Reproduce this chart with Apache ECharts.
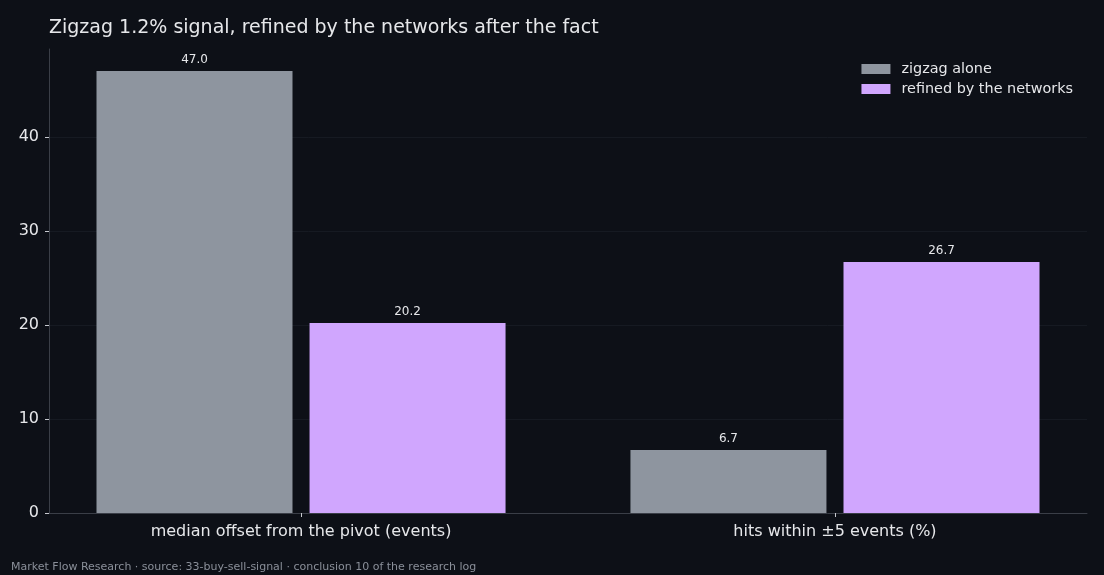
<!DOCTYPE html>
<html>
<head>
<meta charset="utf-8">
<script src="https://cdn.jsdelivr.net/npm/echarts@6/dist/echarts.min.js"></script>
<style>
  html, body { margin: 0; padding: 0; background: #0d1017; }
  #chart { width: 1104px; height: 575px; }
</style>
</head>
<body>
<div id="chart"></div>
<script>
// categories and values
const categories = ['median offset from the pivot (events)', 'hits within ±5 events (%)']
const zigzagAlone = [47.0, 6.7]
const refined = [20.2, 26.7]
const yTicks = [0, 10, 20, 30, 40]

const font = 'DejaVu Sans'
const chart = echarts.init(document.getElementById('chart'))

// x is a value axis so the category centres land where the original puts them
const toPoints = arr => arr.map((v, i) => [i, v])

chart.setOption({
  backgroundColor: '#0d1017',
  animation: false,
  textStyle: { fontFamily: font },
  title: {
    text: 'Zigzag 1.2% signal, refined by the networks after the fact',
    left: 44,
    top: 14,
    textStyle: { color: '#e6e7ea', fontSize: 19, fontWeight: 'normal', fontFamily: font }
  },
  graphic: [{
    type: 'text',
    left: 11,
    top: 562,
    style: {
      text: 'Market Flow Research · source: 33-buy-sell-signal · conclusion 10 of the research log',
      fill: '#8a8f99',
      font: '11px "DejaVu Sans"'
    }
  }],
  legend: {
    orient: 'vertical',
    right: 26,
    top: 57,
    icon: 'rect',
    itemWidth: 29,
    itemHeight: 10,
    itemGap: 6,
    textStyle: { color: '#e6e7ea', fontSize: 14.4, fontFamily: font, padding: [0, 0, 0, 6] },
    data: ['zigzag alone', 'refined by the networks']
  },
  grid: { left: 49, right: 17, top: 49, bottom: 62 },
  xAxis: {
    type: 'value',
    min: -0.472,
    max: 1.472,
    splitLine: { show: false },
    axisLine: { show: true, onZero: false, lineStyle: { color: '#3a3e47' } },
    axisTick: { show: true, customValues: [0, 1], length: 4, lineStyle: { color: '#c8cad0' } },
    axisLabel: {
      customValues: [0, 1],
      formatter: v => categories[Math.round(v)] || '',
      color: '#e6e7ea',
      fontSize: 16,
      margin: 11,
      fontFamily: font
    }
  },
  yAxis: {
    type: 'value',
    min: 0,
    max: 49.35,
    interval: 10,
    axisLine: { show: true, onZero: false, lineStyle: { color: '#3a3e47' } },
    axisTick: { show: true, customValues: yTicks, length: 4, lineStyle: { color: '#c8cad0' } },
    axisLabel: { customValues: yTicks, color: '#e6e7ea', fontSize: 16, margin: 10, fontFamily: font },
    splitLine: { show: true, lineStyle: { color: '#161a22', width: 1 } }
  },
  series: [
    {
      name: 'zigzag alone',
      type: 'bar',
      data: toPoints(zigzagAlone),
      barWidth: 196,
      barGap: '8.7%',
      itemStyle: { color: '#8e959f' },
      label: {
        show: true,
        position: 'top',
        distance: 5,
        color: '#e6e7ea',
        fontSize: 12,
        fontFamily: font,
        formatter: p => p.value[1].toFixed(1)
      }
    },
    {
      name: 'refined by the networks',
      type: 'bar',
      data: toPoints(refined),
      barWidth: 196,
      barGap: '8.7%',
      itemStyle: { color: '#d0a6fe' },
      label: {
        show: true,
        position: 'top',
        distance: 5,
        color: '#e6e7ea',
        fontSize: 12,
        fontFamily: font,
        formatter: p => p.value[1].toFixed(1)
      }
    }
  ]
})
</script>
</body>
</html>
